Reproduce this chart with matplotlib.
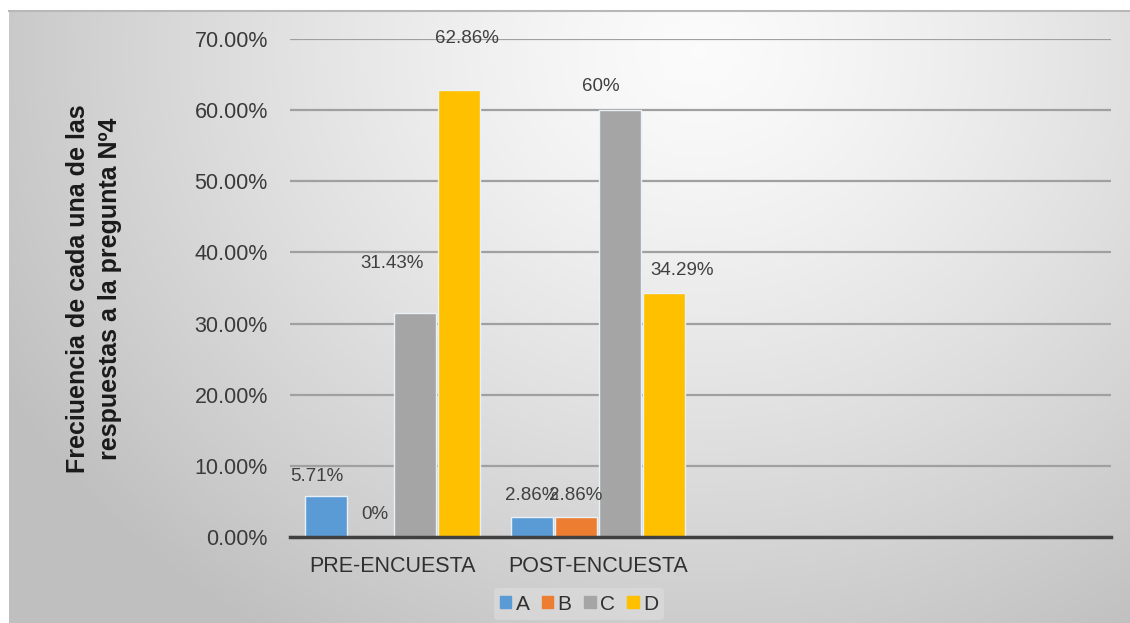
import numpy as np
import matplotlib.pyplot as plt

plt.rcParams['font.family'] = ['Liberation Sans', 'DejaVu Sans']

categories = ['PRE-ENCUESTA', 'POST-ENCUESTA', '', '']
series = ['A', 'B', 'C', 'D']
values = {
    'A': [5.71, 2.86],
    'B': [0.0, 2.86],
    'C': [31.43, 60.0],
    'D': [62.86, 34.29],
}
colors = ['#5B9BD5', '#ED7D31', '#A5A5A5', '#FFC000']
y_ticks = [0, 10, 20, 30, 40, 50, 60, 70]

# label nudges (points) per series, per group
label_offsets = {
    'A': [(-7, 14), (0, 15)],
    'B': [(3, 16), (0, 15)],
    'C': [(-16, 36), (-14, 17)],
    'D': [(6, 37), (13, 16)],
}

W, H = 1130, 623
fig = plt.figure(figsize=(W / 100, H / 100), dpi=100)
fig.patch.set_facecolor('white')

# shaded panel behind the chart
bg = fig.add_axes([9 / W, 0, 1 - 9 / W, 1 - 11 / H])
yy, xx = np.mgrid[0:612, 0:1121]
d = np.sqrt(((xx - 690) / 1.0) ** 2 + ((yy - 40) * 1.15) ** 2)
shade = 0.985 - 0.22 * (d / 760) ** 1.3
shade = np.clip(shade, 0.75, 1)
bg.imshow(np.dstack([shade, shade, shade]), aspect='auto', interpolation='bilinear')
bg.set_axis_off()
fig.add_artist(plt.Line2D([9 / W, 1], [1 - 11 / H, 1 - 11 / H], color='#b8b8b8', lw=1.5))

ax = fig.add_axes([290 / W, 1 - 537 / H, (1111 - 290) / W, (537 - 39) / H])
ax.set_facecolor('none')

x = np.arange(len(categories))
step = 0.215
width = 0.205
n_groups = len(values['A'])
for i, s in enumerate(series):
    xs = x[:n_groups] + (i - 1.5) * step
    vals = np.array(values[s]) / 100
    bars = ax.bar(xs, vals, width, color=colors[i], edgecolor='#e8f0f8', linewidth=1, zorder=3)
    for j, (b, v) in enumerate(zip(bars, values[s])):
        txt = f'{v:.2f}'.rstrip('0').rstrip('.') + '%'
        dx, dy = label_offsets[s][j]
        ax.annotate(txt, (b.get_x() + b.get_width() / 2, b.get_height()),
                    xytext=(dx, dy), textcoords='offset points',
                    ha='center', va='center', fontsize=13.5, color='#404040', zorder=4)

ax.set_xlim(-0.5, len(categories) - 0.5)
ax.set_ylim(0, 0.70)
ax.set_yticks([t / 100 for t in y_ticks])
ax.set_yticklabels([f'{t:.2f}%' for t in y_ticks], fontsize=15.5, color='#3a3a3a')
ax.set_xticks(x)
ax.set_xticklabels(categories, fontsize=15.5, color='#303030')
ax.tick_params(axis='both', length=0)
ax.tick_params(axis='y', pad=16)
ax.tick_params(axis='x', pad=14)
ax.yaxis.grid(True, color='#a0a0a0', lw=1.6, zorder=0)
for sp in ['top', 'right', 'left']:
    ax.spines[sp].set_visible(False)
ax.spines['bottom'].set_color('#404040')
ax.spines['bottom'].set_linewidth(2.5)
ax.spines['bottom'].set_zorder(5)

fig.text(94 / W, 1 - 289 / H, 'Freciuencia de cada una de las\nrespuestas a la pregunta Nº4',
         rotation=90, ha='center', va='center', fontsize=18, fontweight='bold',
         color='#1a1a1a', linespacing=1.4)

handles = [plt.Rectangle((0, 0), 1, 1, color=c) for c in colors]
leg = fig.legend(handles, series, loc='center', bbox_to_anchor=(579 / W, 1 - 604 / H),
                 ncol=4, frameon=True, fontsize=15, handlelength=0.55, handleheight=0.55,
                 handletextpad=0.2, columnspacing=0.6, borderpad=0.3)
leg.get_frame().set_facecolor('#dedede')
leg.get_frame().set_edgecolor('none')
leg.get_frame().set_alpha(0.6)
for t in leg.get_texts():
    t.set_color('#303030')

fig.savefig('out.png', dpi=100)
